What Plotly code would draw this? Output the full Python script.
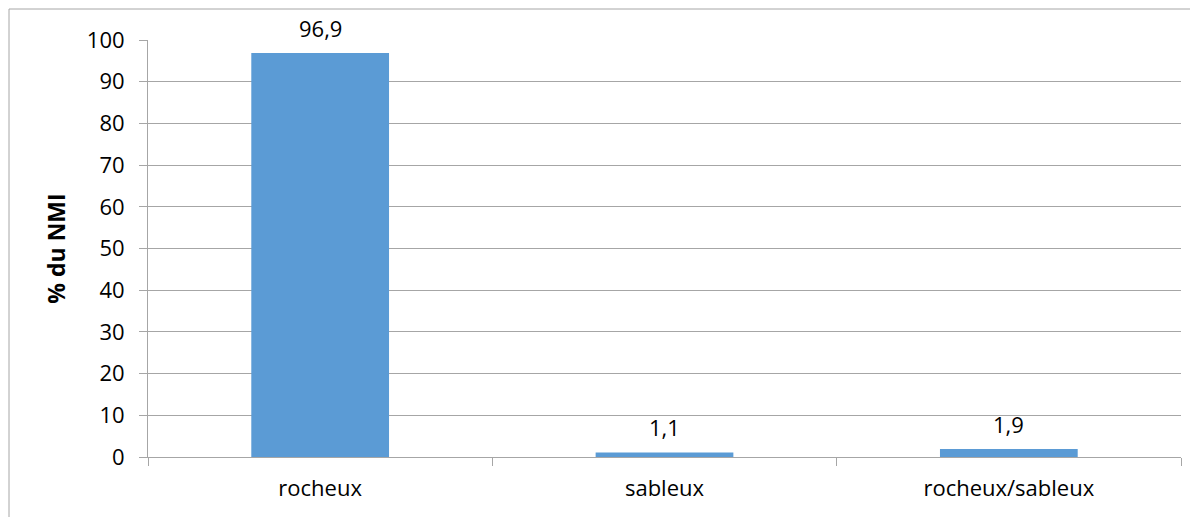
import plotly.graph_objects as go

categories = ["rocheux", "sableux", "rocheux/sableux"]
values = [96.9, 1.1, 1.9]
y_ticks = [0, 10, 20, 30, 40, 50, 60, 70, 80, 90, 100]

# page body has an 8px margin, so the figure is offset by 8px
W, H = 1190, 509
L, R, T, B = 140, 17, 32, 60

fs = 22
fig = go.Figure(go.Bar(
    x=categories, y=values,
    marker=dict(color="#5b9bd5", line=dict(width=0)),
    width=0.4,
))

for c, v in zip(categories, values):
    fig.add_annotation(
        x=c, y=v, xref="x", yref="y",
        text=f"{v:.1f}".replace(".", ","),
        showarrow=False, yanchor="bottom", yshift=8,
        font=dict(size=fs, color="#000000", family="Open Sans"),
    )

grid = "#a6a6a6"
fig.update_layout(
    width=W, height=H,
    margin=dict(l=L, r=R, t=T, b=B),
    paper_bgcolor="white", plot_bgcolor="white",
    font=dict(family="Open Sans", size=fs, color="#000000"),
    showlegend=False,
    xaxis=dict(
        showline=True, linecolor=grid, linewidth=1,
        ticks="outside", tickson="boundaries", ticklen=8, tickcolor=grid,
        tickfont=dict(size=fs), showgrid=False, ticklabelstandoff=12,
    ),
    yaxis=dict(
        range=[0, 100], tickvals=y_ticks,
        showgrid=True, gridcolor=grid, gridwidth=1,
        showline=True, linecolor=grid, linewidth=1,
        ticks="outside", ticklen=8, tickcolor=grid,
        tickfont=dict(size=fs), zeroline=False, ticklabelstandoff=10,
        title=dict(text="<b>% du NMI</b>", font=dict(size=fs + 1), standoff=14),
    ),
    shapes=[dict(
        type="rect", xref="paper", yref="paper",
        x0=(1 - L) / (W - L - R), x1=(1210 - L) / (W - L - R),
        y0=(H - B - 530) / (H - T - B), y1=(H - B - 1) / (H - T - B),
        line=dict(color="#a6a6a6", width=1), fillcolor="rgba(0,0,0,0)",
        layer="below",
    )],
)

fig.write_html("out.html")
